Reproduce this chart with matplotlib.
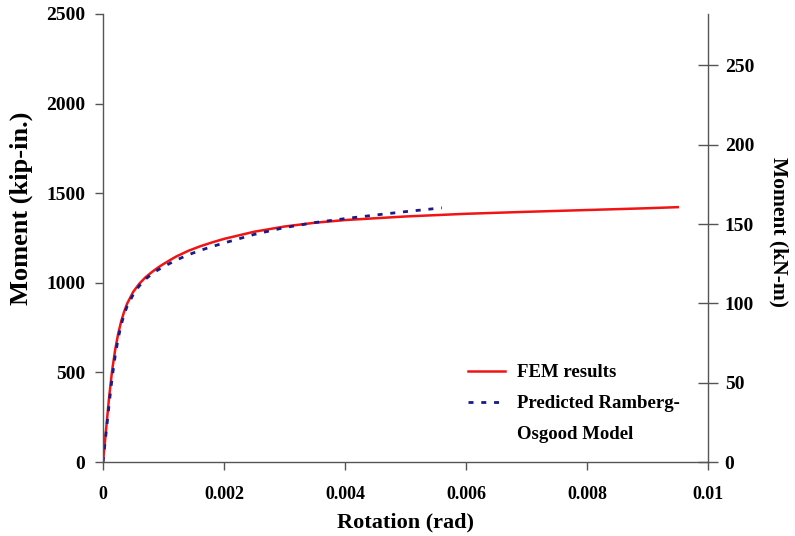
import matplotlib
matplotlib.use("Agg")
import matplotlib.pyplot as plt
from matplotlib.lines import Line2D

fem_rot = [0, 0.00005, 0.0001, 0.00015, 0.0002, 0.00025, 0.0003, 0.00035, 0.0004, 0.0005,
           0.0006, 0.0007, 0.0008, 0.0009, 0.001, 0.0012, 0.0014, 0.0016, 0.0018, 0.002,
           0.0025, 0.003, 0.0035, 0.004, 0.005, 0.006, 0.007, 0.008, 0.009, 0.0095]
fem_m = [0, 180, 360, 510, 625, 715, 785, 840, 885, 950,
         995, 1030, 1058, 1083, 1105, 1145, 1177, 1203, 1225, 1245,
         1285, 1314, 1335, 1350, 1370, 1385, 1396, 1406, 1416, 1422]

ro_rot = [0, 0.00005, 0.0001, 0.00015, 0.0002, 0.00025, 0.0003, 0.00035, 0.0004, 0.0005,
          0.0006, 0.0007, 0.0008, 0.0009, 0.001, 0.0012, 0.0014, 0.0016, 0.0018, 0.002,
          0.0025, 0.003, 0.0035, 0.004, 0.0045, 0.005, 0.0056]
ro_m = [0, 160, 320, 470, 590, 690, 765, 825, 870, 935,
        983, 1020, 1047, 1070, 1090, 1125, 1155, 1180, 1202, 1222,
        1270, 1308, 1336, 1358, 1378, 1397, 1418]

x_ticks = [0, 0.002, 0.004, 0.006, 0.008, 0.01]
x_labels = ["0", "0.002", "0.004", "0.006", "0.008", "0.01"]
y_ticks = [0, 500, 1000, 1500, 2000, 2500]
y2_ticks = [0, 50, 100, 150, 200, 250]
legend_labels = ["FEM results", "Predicted Ramberg-", "Osgood Model"]
KIPIN_TO_KNM = 0.113

plt.rcParams['font.family'] = ['Liberation Serif', 'DejaVu Serif']
plt.rcParams['font.weight'] = 'bold'

fig = plt.figure(figsize=(7.95, 5.36), dpi=100)
ax = fig.add_axes([0.1296, 0.138, 0.761, 0.836])

red_c = '#f01414'
blue_c = '#1a1a88'
l1, = ax.plot(fem_rot, fem_m, color=red_c, lw=1.8)
l2, = ax.plot(ro_rot, ro_m, color=blue_c, lw=2.0, ls=(0, (1.8, 2.8)))

ax.set_xlim(0, 0.01)
ax.set_ylim(0, 2500)
ax.set_xticks(x_ticks)
ax.set_xticklabels(x_labels)
ax.set_yticks(y_ticks)

spine_c = '#555555'
for s in ['top', 'right']:
    ax.spines[s].set_visible(False)
for s in ['left', 'bottom']:
    ax.spines[s].set_color(spine_c)
    ax.spines[s].set_linewidth(1.0)
ax.tick_params(axis='y', direction='out', length=6, width=1, color=spine_c,
               labelsize=14, pad=7)
ax.tick_params(axis='x', direction='out', length=6, width=1, color=spine_c,
               labelsize=13, pad=11)
for lab in ax.get_xticklabels() + ax.get_yticklabels():
    lab.set_fontweight('bold')

ax.set_xlabel('Rotation (rad)', fontsize=16, fontweight='bold', labelpad=7)
ax.set_ylabel('Moment (kip-in.)', fontsize=19, fontweight='bold')
ax.yaxis.set_label_coords((33 - 103) / 605, (462 - 208) / 448)

ax2 = ax.twinx()
ax2.set_ylim(0, 2500 * KIPIN_TO_KNM)
ax2.set_yticks(y2_ticks)
for s in ['top', 'left', 'bottom']:
    ax2.spines[s].set_visible(False)
ax2.spines['right'].set_color(spine_c)
ax2.spines['right'].set_linewidth(1.0)
ax2.tick_params(axis='y', direction='inout', length=14, width=1, color=spine_c,
                labelsize=14, pad=5)
for lab in ax2.get_yticklabels():
    lab.set_fontweight('bold')
ax2.set_ylabel('Moment (kN-m)', fontsize=15.5, fontweight='bold', rotation=270)
ax2.yaxis.set_label_coords((788 - 103) / 605, (462 - 232) / 448)

blank = Line2D([], [], color='none')
leg = fig.legend([l1, l2, blank], legend_labels, loc='upper left',
                 bbox_to_anchor=(468 / 795, 1 - 364 / 536), frameon=False,
                 prop={'size': 13.5, 'weight': 'bold'}, handlelength=1.97,
                 handletextpad=0.64, labelspacing=0.74, borderpad=0,
                 borderaxespad=0)

fig.savefig('out.png', dpi=100)
